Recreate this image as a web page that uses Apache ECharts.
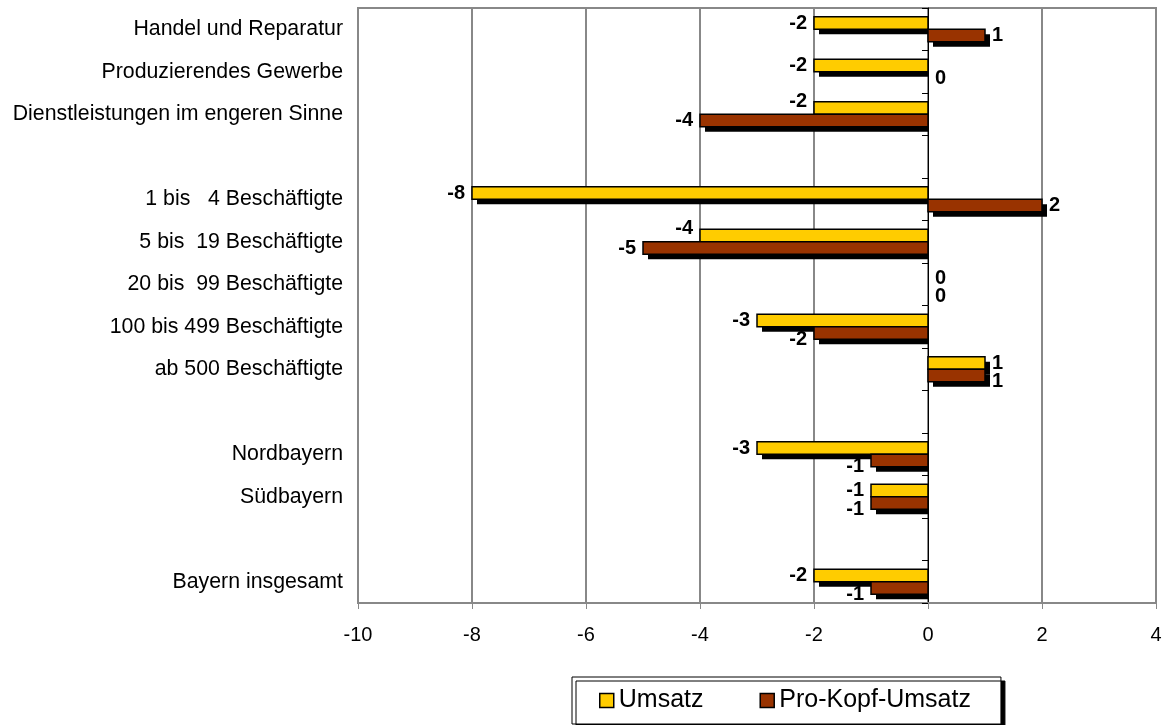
<!DOCTYPE html>
<html>
<head>
<meta charset="utf-8">
<script src="https://cdn.jsdelivr.net/npm/echarts@6/dist/echarts.min.js"></script>
<style>
  html, body { margin: 0; padding: 0; background: #fff; }
  #chart { width: 1165px; height: 725px; }
</style>
</head>
<body>
<div id="chart"></div>
<script>
// Rows top to bottom; whitespace-only names are spacer rows between the groups
const categories = [
  'Handel und Reparatur',
  'Produzierendes Gewerbe',
  'Dienstleistungen im engeren Sinne',
  ' ',
  '1 bis   4 Beschäftigte',
  '5 bis  19 Beschäftigte',
  '20 bis  99 Beschäftigte',
  '100 bis 499 Beschäftigte',
  'ab 500 Beschäftigte',
  '  ',
  'Nordbayern',
  'Südbayern',
  '   ',
  'Bayern insgesamt'
];
const umsatz   = [-2, -2, -2, null, -8, -4, 0, -3, 1, null, -3, -1, null, -2];
const proKopf  = [ 1,  0, -4, null,  2, -5, 0, -2, 1, null, -1, -1, null, -1];
const seriesNames = ['Umsatz', 'Pro-Kopf-Umsatz'];
const seriesColors = ['#FFCC00', '#993300'];
const xTicks = { min: -10, max: 4, step: 2 };

const FONT = "'Liberation Sans', Arial, sans-serif";
const GRAY = '#888888';
const BAR_H = 12.5;      // thickness of one bar
const SHADOW = 5;        // drop-shadow offset
const LABEL_GAP = 7;     // space between bar end and its value label

// Which side of the zero line a value label sits on
const side = v => (v < 0 ? 'L' : 'R');

// Nudge the labels of a row apart when both sit on the same side of zero
function labelShift(i, isUmsatz) {
  const u = umsatz[i], p = proKopf[i];
  if (u == null || p == null || side(u) !== side(p)) return 0;
  if (Math.abs(u) >= Math.abs(p)) return isUmsatz ? 0 : 6;
  return isUmsatz ? -7 : 0;
}

// [value, rowIndex] pairs for the rows that carry a value
function toPairs(values) {
  const out = [];
  values.forEach((v, i) => { if (v != null) out.push([v, i]); });
  return out;
}

// One bar with a hard black drop shadow and its value label
function makeRenderer(seriesIdx) {
  const isUmsatz = seriesIdx === 0;
  return function (params, api) {
    const v = api.value(0);
    const row = api.value(1);
    const base = api.coord([0, row]);
    const tip = api.coord([v, row]);
    const y = base[1] + (isUmsatz ? -BAR_H : 0);
    const x = Math.min(base[0], tip[0]);
    const w = Math.abs(tip[0] - base[0]);
    const children = [];
    if (w > 0) {
      // shadows of bars left of zero stop at the zero line
      const sw = v < 0 ? Math.max(0, w - SHADOW + 1) : w;
      children.push({
        type: 'rect',
        shape: { x: x + SHADOW, y: y + SHADOW, width: sw, height: BAR_H },
        style: { fill: '#000' }
      });
      children.push({
        type: 'rect',
        shape: { x: x, y: y, width: w, height: BAR_H },
        style: { fill: seriesColors[seriesIdx], stroke: '#000', lineWidth: 1.5 }
      });
    }
    children.push({
      type: 'text',
      z2: 10,
      style: {
        text: String(v),
        x: v < 0 ? x - LABEL_GAP : x + w + LABEL_GAP,
        y: y + BAR_H / 2 + labelShift(row, isUmsatz),
        align: v < 0 ? 'right' : 'left',
        verticalAlign: 'middle',
        fill: '#000',
        fontFamily: FONT,
        fontWeight: 'bold',
        fontSize: 20
      }
    });
    return { type: 'group', children: children };
  };
}

const chart = echarts.init(document.getElementById('chart'), null, { renderer: 'canvas' });

chart.setOption({
  animation: false,
  backgroundColor: '#fff',
  textStyle: { fontFamily: FONT },
  grid: {
    left: 358, right: 9, top: 8, bottom: 122,
    show: true,
    borderColor: GRAY,
    borderWidth: 2,
    containLabel: false
  },
  legend: {
    left: 572,
    top: 677,
    icon: 'rect',
    itemWidth: 14,
    itemHeight: 14,
    itemGap: 56,
    padding: [11, 30, 11, 27],
    backgroundColor: '#fff',
    borderColor: '#000',
    borderWidth: 1,
    borderRadius: 0,
    shadowColor: '#000',
    shadowBlur: 0,
    shadowOffsetX: 4,
    shadowOffsetY: 4,
    textStyle: { fontFamily: FONT, fontSize: 25, color: '#000' },
    data: seriesNames.map((name, i) => ({
      name: name,
      itemStyle: { color: seriesColors[i], borderColor: '#000', borderWidth: 1.5 }
    }))
  },
  xAxis: {
    type: 'value',
    min: xTicks.min,
    max: xTicks.max,
    interval: xTicks.step,
    axisLine: { show: true, onZero: false, lineStyle: { color: GRAY, width: 2 } },
    axisTick: { show: true, length: 6, lineStyle: { color: GRAY, width: 1 } },
    axisLabel: { fontFamily: FONT, fontSize: 20, color: '#000', margin: 22 },
    splitLine: { show: true, lineStyle: { color: GRAY, width: 2 } }
  },
  yAxis: [
    {
      // Row names along the left edge of the plot
      type: 'category',
      data: categories,
      inverse: true,
      position: 'left',
      axisLine: { show: false, onZero: false },
      axisTick: { show: false },
      splitLine: { show: false },
      axisLabel: { fontFamily: FONT, fontSize: 21.3, color: '#000', margin: 15 }
    },
    {
      // Zero line with its row ticks
      type: 'category',
      data: categories,
      inverse: true,
      position: 'left',
      axisLine: { show: true, onZero: true, lineStyle: { color: '#000', width: 1 } },
      axisTick: { show: true, inside: false, length: 6, lineStyle: { color: '#000', width: 1 } },
      axisLabel: { show: false },
      splitLine: { show: false }
    }
  ],
  series: [umsatz, proKopf].map((values, i) => ({
    name: seriesNames[i],
    type: 'custom',
    coordinateSystem: 'cartesian2d',
    xAxisIndex: 0,
    yAxisIndex: 0,
    encode: { x: 0, y: 1 },
    itemStyle: { color: seriesColors[i], borderColor: '#000', borderWidth: 1.5 },
    renderItem: makeRenderer(i),
    data: toPairs(values)
  }))
});
</script>
</body>
</html>
